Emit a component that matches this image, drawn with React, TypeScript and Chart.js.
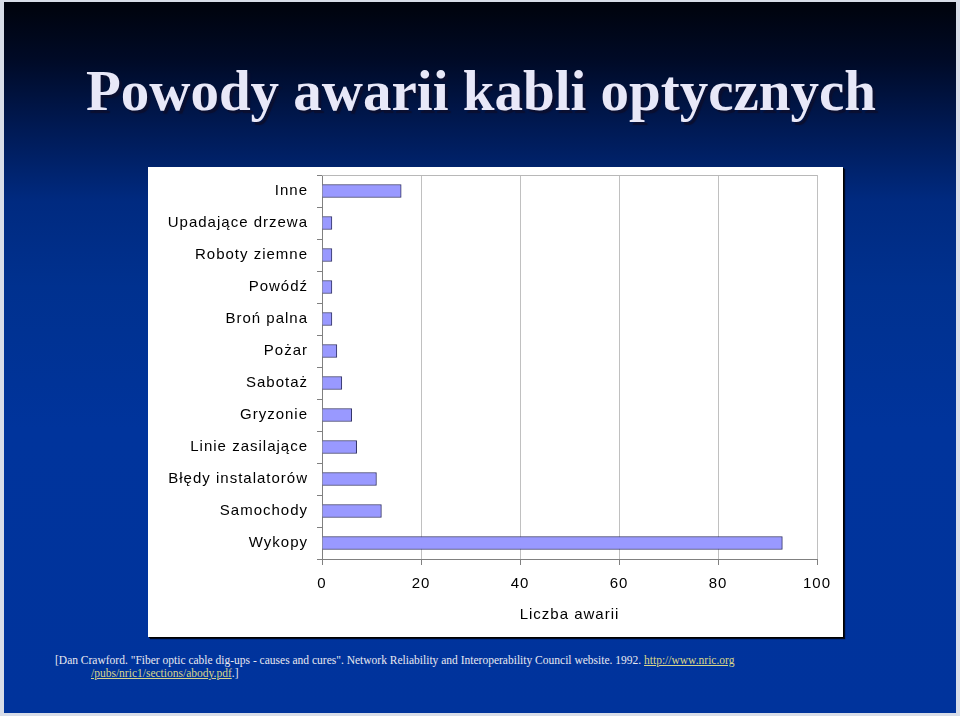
import React, { useEffect, useRef } from "react";
import { Chart, registerables } from "chart.js";

Chart.register(...registerables);

const categories = [
  "Inne",
  "Upadające drzewa",
  "Roboty ziemne",
  "Powódź",
  "Broń palna",
  "Pożar",
  "Sabotaż",
  "Gryzonie",
  "Linie zasilające",
  "Błędy instalatorów",
  "Samochody",
  "Wykopy",
];
const failures = [16, 2, 2, 2, 2, 3, 4, 6, 7, 11, 12, 93];
const xMin = 0;
const xMax = 100;
const xStep = 20;

const titleText = "Powody awarii kabli optycznych";
const axisTitle = "Liczba awarii";

const labelFont = { family: "'Liberation Sans', Arial, sans-serif", size: 15 };

export default function App() {
  const canvasRef = useRef<HTMLCanvasElement | null>(null);

  useEffect(() => {
    document.body.style.margin = "0";
    const canvas = canvasRef.current;
    if (!canvas) return;

    const framePlugin = {
      id: "frameAndSpacing",
      beforeDraw(chart: any) {
        (chart.ctx as any).letterSpacing = "1px";
      },
      afterDatasetsDraw(chart: any) {
        const { ctx, chartArea } = chart;
        ctx.save();
        ctx.strokeStyle = "#b8b8b8";
        ctx.lineWidth = 1;
        ctx.beginPath();
        ctx.moveTo(chartArea.left, chartArea.top + 0.5);
        ctx.lineTo(chartArea.right, chartArea.top + 0.5);
        ctx.stroke();
        ctx.restore();
      },
    };

    const chart = new Chart(canvas, {
      type: "bar",
      data: {
        labels: categories,
        datasets: [
          {
            data: failures,
            backgroundColor: "#9999FF",
            borderColor: "#333366",
            borderWidth: 1,
            barThickness: 13,
          },
        ],
      },
      options: {
        indexAxis: "y",
        responsive: false,
        maintainAspectRatio: false,
        animation: false,
        layout: { padding: { left: 0, top: 8, right: 26, bottom: 0 } },
        plugins: {
          legend: { display: false },
          tooltip: { enabled: false },
        },
        scales: {
          x: {
            type: "linear",
            min: xMin,
            max: xMax,
            ticks: {
              stepSize: xStep,
              font: labelFont,
              color: "#000",
              padding: 10,
            },
            grid: {
              color: "#c0c0c0",
              tickColor: "#808080",
              tickLength: 6,
            },
            border: { color: "#808080" },
            title: {
              display: true,
              text: axisTitle,
              font: labelFont,
              color: "#000",
              padding: { top: 4, bottom: 13 },
            },
            afterFit(scale: any) {
              scale.height = 78;
              scale.paddingLeft = 0;
              scale.paddingRight = 0;
            },
          },
          y: {
            ticks: {
              font: labelFont,
              color: "#000",
              padding: 9,
            },
            grid: {
              drawOnChartArea: false,
              tickLength: 5,
              tickColor: "#808080",
              offset: true,
            },
            border: { color: "#808080" },
            afterFit(scale: any) {
              scale.width = 174;
              scale.paddingTop = 0;
              scale.paddingBottom = 0;
            },
          },
        },
      },
      plugins: [framePlugin],
    } as any);

    return () => chart.destroy();
  }, []);

  return (
    <div
      style={{
        position: "fixed",
        left: 0,
        top: 0,
        width: 960,
        height: 716,
        background: "#d8dde8",
        overflow: "hidden",
      }}
    >
      <div
        style={{
          position: "absolute",
          left: 4,
          top: 2,
          width: 952,
          height: 711,
          background:
            "linear-gradient(to bottom, #00030c 0%, #000a26 8%, #001a55 18%, #002a80 28%, #00318f 40%, #00349c 60%, #00339c 100%)",
          overflow: "hidden",
        }}
      />
      <div
        style={{
          position: "absolute",
          left: 0,
          top: 62,
          width: 962,
          textAlign: "center",
          fontFamily: "'Liberation Serif', 'Times New Roman', serif",
          fontWeight: "bold",
          fontSize: 57,
          lineHeight: "57px",
          color: "#e8e8f8",
          textShadow: "3px 3px 1px #0a0f30",
          whiteSpace: "nowrap",
        }}
      >
        {titleText}
      </div>
      <div
        style={{
          position: "absolute",
          left: 148,
          top: 167,
          width: 695,
          height: 470,
          background: "#ffffff",
          boxShadow: "1px 1px 0 #000000, 2px 2px 1px #000820",
        }}
      >
        <canvas ref={canvasRef} width={695} height={470} style={{ display: "block" }} />
      </div>
      <div
        style={{
          position: "absolute",
          left: 55,
          top: 654,
          fontFamily: "'Liberation Serif', 'Times New Roman', serif",
          fontSize: 11.5,
          lineHeight: "13px",
          color: "#e8e8f0",
          whiteSpace: "nowrap",
        }}
      >
        <div>
          [Dan Crawford. "Fiber optic cable dig-ups - causes and cures". Network Reliability and Interoperability Council website. 1992.{" "}
          <span style={{ color: "#d8d68a", textDecoration: "underline" }}>http://www.nric.org</span>
        </div>
        <div style={{ paddingLeft: 36 }}>
          <span style={{ color: "#d8d68a", textDecoration: "underline" }}>/pubs/nric1/sections/abody.pdf</span>.]
        </div>
      </div>
    </div>
  );
}
